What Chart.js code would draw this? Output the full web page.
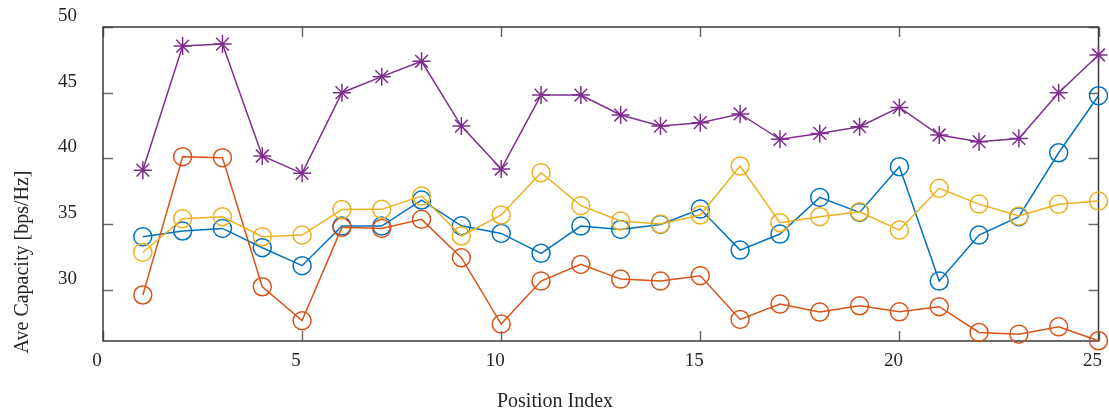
<!DOCTYPE html>
<html>
<head>
<meta charset="utf-8">
<script src="https://cdn.jsdelivr.net/npm/chart.js@4.4.1/dist/chart.umd.min.js"></script>
<style>
  html, body { margin: 0; padding: 0; background: #fff; }
</style>
</head>
<body>
<canvas id="capacity-chart" width="1109" height="412"></canvas>
<script>
const positions = [1, 2, 3, 4, 5, 6, 7, 8, 9, 10, 11, 12, 13, 14, 15, 16, 17, 18, 19, 20, 21, 22, 23, 24, 25];

const blueSeries = [34.04, 34.47, 34.67, 33.2, 31.83, 34.85, 34.85, 36.83, 34.87, 34.29, 32.77, 34.85, 34.59, 34.97, 36.14, 33.02, 34.24, 37.03, 35.89, 39.37, 30.66, 34.16, 35.56, 40.43, 44.77];
const redSeries = [29.6, 40.13, 40.05, 30.23, 27.65, 34.75, 34.67, 35.36, 32.44, 27.39, 30.66, 31.93, 30.81, 30.66, 31.07, 27.74, 28.91, 28.3, 28.78, 28.32, 28.71, 26.75, 26.62, 27.18, 26.12];
const yellowSeries = [32.84, 35.41, 35.56, 34.04, 34.16, 36.1, 36.12, 37.13, 34.09, 35.69, 38.91, 36.4, 35.23, 35.0, 35.69, 39.42, 35.1, 35.56, 35.94, 34.54, 37.72, 36.52, 35.61, 36.5, 36.75];
const purpleSeries = [39.1, 48.55, 48.7, 40.18, 38.86, 45.0, 46.22, 47.39, 42.46, 39.19, 44.82, 44.82, 43.3, 42.46, 42.72, 43.38, 41.45, 41.9, 42.41, 43.88, 41.78, 41.27, 41.52, 45.0, 47.87];

const xTicks = [0, 5, 10, 15, 20, 25];
const yTicks = [30, 35, 40, 45, 50];
const xTitle = "Position Index";
const yTitle = "Ave Capacity [bps/Hz]";

const textColor = "#262626";
const serif = "'Liberation Serif', 'Times New Roman', serif";

function toPoints(values) {
  return values.map((v, i) => ({ x: positions[i], y: v }));
}

function series(values, color, style, radius) {
  return {
    data: toPoints(values),
    borderColor: color,
    backgroundColor: "rgba(0,0,0,0)",
    borderWidth: 1.5,
    pointStyle: style,
    pointRadius: radius,
    pointBorderWidth: 1.5,
    pointBorderColor: color,
    pointBackgroundColor: "rgba(0,0,0,0)",
    tension: 0,
    clip: false,
  };
}

// box around the plot with matlab-like inner ticks, plus axis titles
const matlabAxes = {
  id: "matlabAxes",
  beforeDatasetsDraw(chart) {
    const { ctx, chartArea: a, scales } = chart;
    ctx.save();
    ctx.strokeStyle = "#6b6b6b";
    ctx.lineWidth = 1.5;
    ctx.beginPath();
    xTicks.forEach((v) => {
      const px = Math.round(scales.x.getPixelForValue(v)) + 0.5;
      ctx.moveTo(px, a.bottom);
      ctx.lineTo(px, a.bottom - 10);
      ctx.moveTo(px, a.top);
      ctx.lineTo(px, a.top + 10);
    });
    yTicks.forEach((v) => {
      const py = Math.round(scales.y.getPixelForValue(v)) + 0.5;
      ctx.moveTo(a.left, py);
      ctx.lineTo(a.left + 10, py);
      ctx.moveTo(a.right, py);
      ctx.lineTo(a.right - 10, py);
    });
    ctx.stroke();
    ctx.strokeStyle = "#3a3a3a";
    ctx.lineWidth = 1.5;
    ctx.strokeRect(a.left, a.top, a.right - a.left, a.bottom - a.top);
    ctx.restore();
  },
  afterDraw(chart) {
    const { ctx } = chart;
    ctx.save();
    ctx.fillStyle = textColor;
    ctx.font = "20px " + serif;
    ctx.textAlign = "center";
    ctx.textBaseline = "middle";
    ctx.fillText(xTitle, 555, 402);
    ctx.translate(23, 262);
    ctx.rotate(-Math.PI / 2);
    ctx.fillText(yTitle, 0, 0);
    ctx.restore();
  },
};

new Chart(document.getElementById("capacity-chart"), {
  type: "line",
  data: {
    datasets: [
      series(purpleSeries, "#7E2F8E", "star", 9),
      series(yellowSeries, "#EDB120", "circle", 9),
      series(redSeries, "#D95319", "circle", 9),
      series(blueSeries, "#0072BD", "circle", 9),
    ],
  },
  options: {
    responsive: false,
    animation: false,
    events: [],
    layout: { padding: { left: 0, right: 4, top: 27, bottom: 0 } },
    plugins: {
      legend: { display: false },
      tooltip: { enabled: false },
    },
    scales: {
      x: {
        type: "linear",
        min: 0,
        max: 25,
        afterBuildTicks: (scale) => {
          scale.ticks = xTicks.map((v) => ({ value: v }));
        },
        afterFit: (scale) => {
          scale.height = 71;
          scale.paddingLeft = 0;
          scale.paddingRight = 0;
        },
        grid: { display: false, drawTicks: false },
        border: { display: false },
        ticks: {
          color: textColor,
          font: { family: serif, size: 19 },
          padding: 9,
          labelOffset: -6,
          maxRotation: 0,
        },
      },
      y: {
        type: "linear",
        min: 26.1,
        max: 50,
        afterBuildTicks: (scale) => {
          scale.ticks = yTicks.map((v) => ({ value: v }));
        },
        afterFit: (scale) => {
          scale.width = 103;
          scale.paddingTop = 0;
          scale.paddingBottom = 0;
        },
        grid: { display: false, drawTicks: false },
        border: { display: false },
        ticks: {
          color: textColor,
          font: { family: serif, size: 19 },
          padding: 26,
          labelOffset: -11,
        },
      },
    },
  },
  plugins: [matlabAxes],
});
</script>
</body>
</html>
